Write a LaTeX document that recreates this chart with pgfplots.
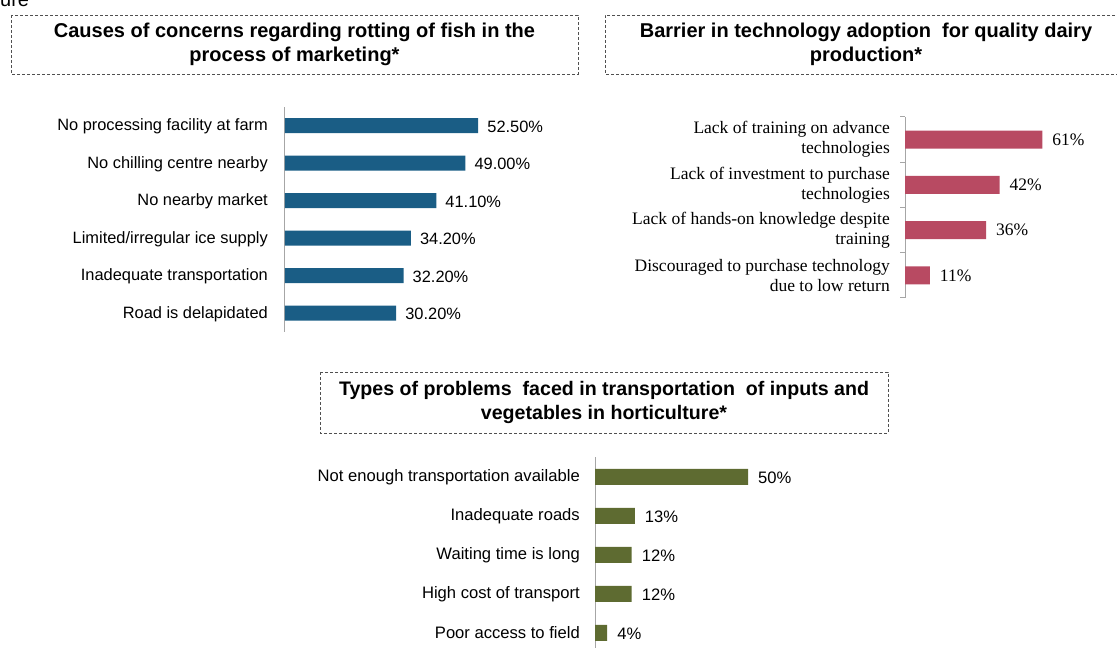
\documentclass[border=0pt]{standalone}
\usepackage{fontspec}
\setmainfont{Liberation Sans}
\newfontfamily\seriffont{Liberation Serif}
\usepackage{pgfplots}
\pgfplotsset{compat=1.18}
\definecolor{fishblue}{HTML}{1A5D85}
\definecolor{dairyrose}{HTML}{B84A62}
\definecolor{hortgreen}{HTML}{5E6B31}
\definecolor{axisgray}{HTML}{A6A6A6}
\definecolor{boxgray}{HTML}{505050}
\pgfplotsset{
  hbar/.style={
    xbar, scale only axis, xmin=0, clip=false,
    axis x line=none, axis y line*=left,
    y axis line style={draw=axisgray, line width=1pt},
    major tick length=0pt,
    /pgf/number format/assume math mode=true,
    point meta=x,
    nodes near coords,
    every node near coord/.append style={inner sep=0pt, anchor=west, font=\fontsize{16.4}{19}\selectfont},
    yticklabel style={inner sep=0pt, font=\fontsize{16.4}{19}\selectfont},
  }
}
\begin{document}
\begin{tikzpicture}
\useasboundingbox (0,0) rectangle (1117pt,648pt);
% cropped caption fragment
\node[anchor=base west, inner sep=0pt, font=\fontsize{20}{24}\selectfont] at (0pt,641pt) {ure};
% title boxes
\draw[boxgray, line width=0.8pt, dash pattern=on 3pt off 2pt] (11pt,633pt) rectangle (578pt,574pt);
\node[align=center, inner sep=0pt, font=\bfseries\fontsize{20}{24}\selectfont] at (294.5pt,604pt)
  {Causes of concerns regarding rotting of fish in the\\process of marketing*};
\draw[boxgray, line width=0.8pt, dash pattern=on 3pt off 2pt] (1125pt,633pt) -- (605pt,633pt) -- (605pt,574pt) -- (1125pt,574pt);
\node[align=center, inner sep=0pt, font=\bfseries\fontsize{20}{24}\selectfont] at (866pt,604pt)
  {Barrier in technology adoption\ \ for quality dairy\\production*};
\draw[boxgray, line width=0.8pt, dash pattern=on 3pt off 2pt] (320pt,276pt) rectangle (888pt,215pt);
\node[align=center, inner sep=0pt, font=\bfseries\fontsize{19.6}{24}\selectfont] at (604pt,245.5pt)
  {Types of problems\ \ faced in transportation\ \ of inputs and\\vegetables in horticulture*};

% Fish
\begin{axis}[hbar, at={(285pt,316pt)}, anchor=south west,
  width=290pt, height=225pt, xmax=78.8, ymin=-0.5, ymax=5.5,
  ytick={0,1,2,3,4,5},
  yticklabels={Road is delapidated, Inadequate transportation, Limited/irregular ice supply, No nearby market, No chilling centre nearby, No processing facility at farm},
  yticklabel style={xshift=-17pt, yshift=-1pt},
  nodes near coords={\pgfmathprintnumber[fixed,fixed zerofill,precision=2]{\pgfplotspointmeta}\%},
  every node near coord/.append style={xshift=9pt, yshift=-1pt},
]
\addplot[fill=fishblue, draw=none, bar width=15pt] coordinates {(30.2,0) (32.2,1) (34.2,2) (41.1,3) (49.0,4) (52.5,5)};
\end{axis}

% Dairy
\begin{axis}[hbar, at={(905pt,350pt)}, anchor=south west,
  width=180pt, height=181pt, xmax=80, ymin=-0.5, ymax=3.5,
  ytick={0,1,2,3},
  yticklabels={{Discouraged to purchase technology\\due to low return},{Lack of hands-on knowledge despite\\training},{Lack of investment to purchase\\technologies},{Lack of training on advance\\technologies}},
  yticklabel style={xshift=-15pt, align=right, font=\seriffont\fontsize{17.5}{20}\selectfont},
  minor ytick={-0.5,0.5,1.5,2.5,3.5},
  minor tick length=5pt, tick align=outside,
  minor tick style={draw=axisgray, line width=1pt},
  nodes near coords={\pgfmathprintnumber{\pgfplotspointmeta}\%},
  every node near coord/.append style={xshift=10pt, font=\seriffont\fontsize{17.5}{20}\selectfont},
]
\addplot[fill=dairyrose, draw=none, bar width=18pt] coordinates {(11,0) (36,1) (42,2) (61,3)};
\end{axis}

% Horticulture
\begin{axis}[hbar, at={(595pt,-4.5pt)}, anchor=south west,
  width=200pt, height=195pt, xmax=65.36, ymin=-0.5, ymax=4.5,
  ytick={0,1,2,3,4},
  yticklabels={Poor access to field, High cost of transport, Waiting time is long, Inadequate roads, Not enough transportation available},
  yticklabel style={xshift=-15pt, font=\fontsize{16.6}{19}\selectfont},
  nodes near coords={\pgfmathprintnumber{\pgfplotspointmeta}\%},
  every node near coord/.append style={xshift=10pt, yshift=-1pt, font=\fontsize{16.6}{19}\selectfont},
]
\addplot[fill=hortgreen, draw=none, bar width=16pt] coordinates {(4,0) (12,1) (12,2) (13,3) (50,4)};
\end{axis}
\end{tikzpicture}
\end{document}
